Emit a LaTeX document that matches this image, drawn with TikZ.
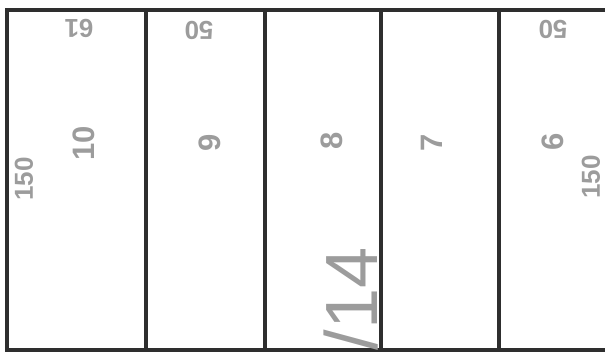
\documentclass[tikz,border=0pt]{standalone}
\usepackage{fontspec}
\setmainfont{Liberation Sans}
\usepackage{xcolor}
\usepackage{tikz}
\definecolor{inkgray}{HTML}{2E2E2E}
\definecolor{printgray}{HTML}{9C9C9C}

\begin{document}
\begin{tikzpicture}[x=1pt, y=1pt,
    wall/.style={draw=inkgray, line width=4.5pt},
    num/.style={text=printgray, font=\fontsize{31}{31}\selectfont\bfseries, inner sep=0pt, rotate=90},
    dim/.style={text=printgray, font=\fontsize{26}{26}\selectfont\bfseries, inner sep=0pt}]
  \useasboundingbox (0,0) rectangle (605,360);
  \draw[wall, line cap=rect] (612,350) -- (7,350) -- (7,10) -- (612,10);
  \foreach \x/\n in {146/a, 265/b, 381/c, 499/d}
    \draw[wall] (\x,350) coordinate (top\n) -- (\x,10) coordinate (bot\n);
  \foreach \x/\y/\l/\n in {84/217/10/p10, 210/217/9/p9, 332/219/8/p8, 432/217/7/p7, 553/218/6/p6}
    \node[num] (\n) at (\x,\y) {\l};
  \node[dim, rotate=90] (lenl) at (24,181) {150};
  \node[dim, rotate=90] (lenr) at (591,183) {150};
  \node[dim, rotate=180] (wa) at (79,332) {61};
  \node[dim, rotate=180] (wb) at (199,330) {50};
  \node[dim, rotate=180] (we) at (553,331) {50};
  \node[text=printgray, font=\fontsize{74}{74}\selectfont, inner sep=0pt, rotate=90] (tot) at (351,61) {/14};
\end{tikzpicture}
\end{document}
